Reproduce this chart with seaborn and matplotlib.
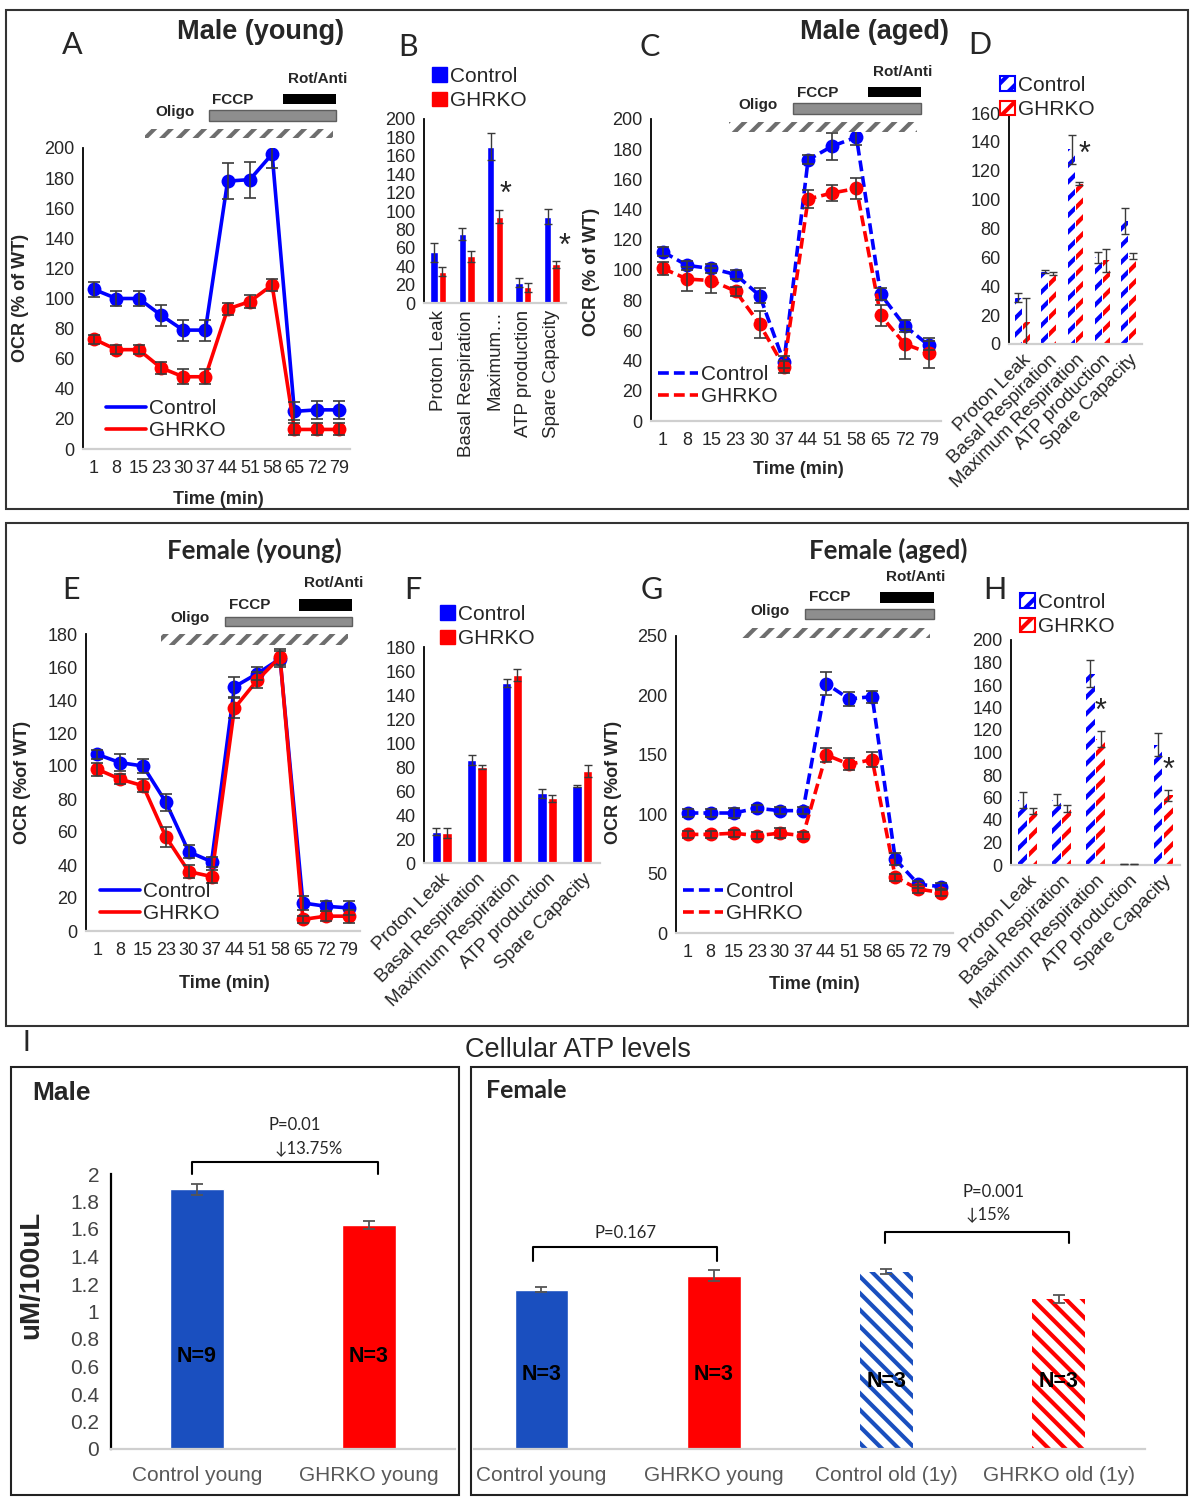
import numpy as np
import pandas as pd
import matplotlib
matplotlib.use("Agg")
import matplotlib.pyplot as plt
import seaborn as sns
from matplotlib import font_manager
from matplotlib.patches import Rectangle, Patch
from matplotlib.lines import Line2D
from matplotlib.ticker import FuncFormatter

# ── data ─────────────────────────────────────────────────────
time_labels = ["1", "8", "15", "23", "30", "37", "44", "51", "58", "65", "72", "79"]
time_pos = list(range(len(time_labels)))
measures = ["Proton Leak", "Basal Respiration", "Maximum Respiration",
            "ATP production", "Spare Capacity"]
measures_b = ["Proton Leak", "Basal Respiration", "Maximum\u2026",
              "ATP production", "Spare Capacity"]

# A  male young, time course
a_ctrl = [106, 100, 100, 89, 79, 79, 178, 179, 196, 25, 26, 26]
a_ctrl_err = [5, 5, 5, 7, 7, 7, 12, 12, 9, 6, 6, 6]
a_ko = [73, 66, 66, 54, 48, 48, 93, 98, 109, 13, 13, 13]
a_ko_err = [3, 3, 3, 4, 5, 5, 4, 4, 4, 4, 4, 4]
# B  male young, parameters
b_ctrl = [55, 75, 170, 22, 94]
b_ctrl_err = [10, 7, 15, 5, 8]
b_ko = [34, 51, 94, 17, 42]
b_ko_err = [5, 6, 7, 5, 4]
# C  male aged, time course
c_ctrl = [112, 103, 101, 97, 83, 39, 173, 182, 188, 84, 63, 50]
c_ctrl_err = [3, 3, 3, 3, 5, 4, 3, 9, 5, 4, 4, 3]
c_ko = [101, 94, 93, 86, 64, 36, 147, 151, 154, 70, 51, 45]
c_ko_err = [4, 8, 8, 3, 9, 4, 6, 5, 7, 7, 10, 10]
# D  male aged, parameters
d_ctrl = [32, 50, 135, 60, 85]
d_ctrl_err = [3, 1, 10, 4, 9]
d_ko = [15, 49, 111, 58, 61]
d_ko_err = [17, 1, 1, 8, 2]
# E  female young, time course
e_ctrl = [107, 102, 100, 78, 48, 42, 148, 156, 165, 17, 15, 14]
e_ctrl_err = [3, 5, 4, 5, 4, 3, 6, 4, 5, 4, 3, 4]
e_ko = [98, 92, 88, 57, 36, 33, 135, 152, 166, 7, 9, 9]
e_ko_err = [4, 3, 4, 6, 4, 4, 6, 5, 5, 2, 3, 4]
# F  female young, parameters
f_ctrl = [26, 86, 150, 58, 64]
f_ctrl_err = [3, 4, 3, 4, 1]
f_ko = [25, 80, 157, 54, 77]
f_ko_err = [4, 2, 5, 3, 5]
# G  female aged, time course
g_ctrl = [101, 101, 101, 105, 103, 103, 210, 197, 199, 62, 41, 39]
g_ctrl_err = [3, 3, 4, 3, 3, 3, 10, 6, 5, 5, 3, 3]
g_ko = [83, 83, 84, 82, 84, 82, 150, 142, 146, 47, 37, 34]
g_ko_err = [3, 3, 3, 3, 4, 3, 6, 5, 6, 3, 3, 3]
# H  female aged, parameters
h_ctrl = [58, 58, 170, 1, 107]
h_ctrl_err = [7, 5, 12, 0, 10]
h_ko = [48, 50, 112, 1, 62]
h_ko_err = [3, 3, 7, 0, 5]
# I  cellular ATP (uM/100uL)
male_groups = ["Control young", "GHRKO young"]
male_atp = [1.89, 1.63]
male_err = [0.04, 0.03]
male_n = ["N=9", "N=3"]
female_groups = ["Control young", "GHRKO young", "Control old (1y)", "GHRKO old (1y)"]
female_atp = [1.16, 1.26, 1.29, 1.09]
female_err = [0.02, 0.04, 0.02, 0.03]
female_n = ["N=3", "N=3", "N=3", "N=3"]

# ── style ────────────────────────────────────────────────────
sns.set_style("white")
names = {f.name for f in font_manager.fontManager.ttflist}
NARROW = "Liberation Sans Narrow" if "Liberation Sans Narrow" in names else "Liberation Sans"
plt.rcParams["font.family"] = [NARROW, "Liberation Sans", "DejaVu Sans"]
plt.rcParams["hatch.linewidth"] = 3.0
ARIAL = ["Liberation Sans", "DejaVu Sans"]
CALIBRI = ["Lato", "DejaVu Sans"]

BLUE, RED = "#0000ff", "#ff0000"
ATP_BLUE = "#1a4fbf"
ERR = "#3a3a3a"
TICK_FS = 13
CAT_FS = 13.5

W, H = 1192, 1500
fig = plt.figure(figsize=(W / 100, H / 100), dpi=100)


def add_axes(x0, y0, x1, y1):
    return fig.add_axes([x0 / W, 1 - y1 / H, (x1 - x0) / W, (y1 - y0) / H])


def ftext(x, y, s, **kw):
    kw.setdefault("ha", "center")
    kw.setdefault("va", "center")
    fig.text(x / W, 1 - y / H, s, **kw)


def frect(x0, y0, x1, y1, **kw):
    fig.add_artist(Rectangle((x0 / W, 1 - y1 / H), (x1 - x0) / W, (y1 - y0) / H,
                             transform=fig.transFigure, **kw))


def style_axes(ax, ymax, step):
    sns.despine(ax=ax)
    ax.spines["left"].set_color("black")
    ax.spines["left"].set_linewidth(1.3)
    ax.spines["bottom"].set_color("#cfcfcf")
    ax.spines["bottom"].set_linewidth(1.6)
    ax.set_ylim(0, ymax)
    ax.set_yticks(np.arange(0, ymax + 1, step))
    ax.tick_params(axis="y", length=4, width=1.2, labelsize=TICK_FS, pad=2)
    ax.tick_params(axis="x", length=0, labelsize=TICK_FS)
    ax.set_xlabel("")
    ax.set_ylabel("")


def line_panel(ax, ctrl, ctrl_err, ko, ko_err, dashed, ymax, step):
    ls = (0, (3, 1.4)) if dashed else "-"
    for vals, errs, col in [(ctrl, ctrl_err, BLUE), (ko, ko_err, RED)]:
        sns.lineplot(x=time_pos, y=vals, color=col, marker="o", markersize=10,
                     markeredgewidth=0, linewidth=2.6, linestyle=ls, ax=ax)
        ax.errorbar(time_pos, vals, yerr=errs, fmt="none", ecolor=ERR,
                    elinewidth=1.2, capsize=4, capthick=1.2, zorder=4)
    style_axes(ax, ymax, step)
    ax.set_xlim(-0.5, 11.5)
    ax.set_xticks(time_pos)
    ax.set_xticklabels(time_labels)
    ax.tick_params(axis="x", pad=8)


def bar_panel(ax, ctrl, ctrl_err, ko, ko_err, hatched, labels, ymax, step, rot):
    df = pd.DataFrame({"measure": measures * 2, "ocr": ctrl + ko,
                       "group": ["Control"] * 5 + ["GHRKO"] * 5})
    sns.barplot(data=df, x="measure", y="ocr", hue="group",
                palette={"Control": BLUE, "GHRKO": RED}, width=0.6, gap=0.12,
                errorbar=None, saturation=1, legend=False, ax=ax)
    for cont, errs, col in zip(ax.containers, [ctrl_err, ko_err], [BLUE, RED]):
        xs = [b.get_x() + b.get_width() / 2 for b in cont]
        ys = [b.get_height() for b in cont]
        if hatched:
            for b in cont:
                b.set_facecolor("white")
                b.set_hatch("//")
                b.set_edgecolor(col)
                b.set_linewidth(0)
        ax.errorbar(xs, ys, yerr=errs, fmt="none", ecolor=ERR, elinewidth=1,
                    capsize=3, capthick=1, zorder=4)
    style_axes(ax, ymax, step)
    ax.set_xlim(-0.5, 4.5)
    ax.set_xticks(range(5))
    if rot == 90:
        ax.set_xticklabels(labels, rotation=90, ha="center", va="top",
                           fontsize=CAT_FS)
    else:
        ax.set_xticklabels(labels, rotation=rot, ha="right", va="top",
                           rotation_mode="anchor", fontsize=CAT_FS)
    ax.tick_params(axis="x", pad=5)


def drugs(rot, black, fccp, gray, oligo, hatch):
    ftext(*rot, "Rot/Anti", fontsize=11, fontweight="bold", family=ARIAL)
    frect(*black, facecolor="black", edgecolor="black", lw=0)
    ftext(*fccp, "FCCP", fontsize=11, fontweight="bold", family=ARIAL)
    frect(*gray, facecolor="#8e8e8e", edgecolor="#5e5e5e", lw=1)
    ftext(*oligo, "Oligo", fontsize=11, fontweight="bold", family=ARIAL)
    frect(*hatch, facecolor="white", edgecolor="#6e6e6e", hatch="//", lw=0)


def line_legend(ax, x, y, dashed):
    ls = (0, (3, 1.4)) if dashed else "-"
    handles = [Line2D([0], [0], color=c, lw=2.6, ls=ls) for c in (BLUE, RED)]
    ax.legend(handles, ["Control", "GHRKO"], loc="upper left",
              bbox_to_anchor=(x / W, 1 - y / H), bbox_transform=fig.transFigure,
              frameon=False, borderpad=0, borderaxespad=0, fontsize=15,
              handlelength=1.9, handletextpad=0.15, labelspacing=0.15)


def bar_legend(ax, x, y, hatched):
    if hatched:
        handles = [Patch(facecolor="white", edgecolor=c, hatch="//", lw=1.5)
                   for c in (BLUE, RED)]
    else:
        handles = [Patch(facecolor=c, edgecolor=c) for c in (BLUE, RED)]
    ax.legend(handles, ["Control", "GHRKO"], loc="upper left",
              bbox_to_anchor=(x / W, 1 - y / H), bbox_transform=fig.transFigure,
              frameon=False, borderpad=0, borderaxespad=0, fontsize=15,
              handlelength=0.7, handleheight=0.7, handletextpad=0.15,
              labelspacing=0.25)


def label_at(axis, s, x, y, size=13):
    axis.set_label_text(s, fontsize=size, fontweight="bold", family=ARIAL,
                        ha="center", va="center")
    axis.set_label_coords(x / W, 1 - y / H, transform=fig.transFigure)


# ── outer boxes ──────────────────────────────────────────────
frect(6, 10, 1188, 509, facecolor="none", edgecolor="#333333", lw=1.5)
frect(6, 523, 1188, 1026, facecolor="none", edgecolor="#333333", lw=1.5)
frect(11, 1067, 459, 1495, facecolor="none", edgecolor="#222222", lw=1.5)
frect(471, 1067, 1187, 1495, facecolor="none", edgecolor="#222222", lw=1.5)

# ── A ────────────────────────────────────────────────────────
ax_a = add_axes(83, 148, 350, 449)
line_panel(ax_a, a_ctrl, a_ctrl_err, a_ko, a_ko_err, False, 200, 20)
line_legend(ax_a, 106, 399, False)
label_at(ax_a.yaxis, "OCR (% of WT)", 21, 298)
label_at(ax_a.xaxis, "Time (min)", 218, 500)
drugs((318, 79), (283, 94, 336, 104), (233, 100), (209, 110, 336, 121),
      (175, 112), (145, 129, 333, 138))
ftext(72, 45, "A", fontsize=22, family=CALIBRI)
ftext(261, 32, "Male (young)", fontsize=19.5, fontweight="bold", family=ARIAL)

# ── B ────────────────────────────────────────────────────────
ax_b = add_axes(424, 119, 566, 303)
bar_panel(ax_b, b_ctrl, b_ctrl_err, b_ko, b_ko_err, False, measures_b, 200, 20, 90)
bar_legend(ax_b, 432, 67, False)
ax_b.text(2.38, 117, "*", fontsize=22, ha="center", va="center")
ax_b.text(4.45, 61, "*", fontsize=22, ha="center", va="center")
ftext(408, 47, "B", fontsize=22, family=CALIBRI)

# ── C ────────────────────────────────────────────────────────
ax_c = add_axes(651, 119, 941, 421)
line_panel(ax_c, c_ctrl, c_ctrl_err, c_ko, c_ko_err, True, 200, 20)
line_legend(ax_c, 658, 365, True)
label_at(ax_c.yaxis, "OCR (% of WT)", 592, 272)
label_at(ax_c.xaxis, "Time (min)", 798, 470)
drugs((903, 72), (868, 87, 921, 97), (818, 93), (793, 103, 921, 114),
      (758, 105), (729, 122, 917, 132))
ftext(650, 47, "C", fontsize=22, family=CALIBRI)
ftext(875, 32, "Male (aged)", fontsize=19.5, fontweight="bold", family=ARIAL)

# ── D ────────────────────────────────────────────────────────
ax_d = add_axes(1009, 113, 1142, 344)
bar_panel(ax_d, d_ctrl, d_ctrl_err, d_ko, d_ko_err, True, measures, 160, 20, 45)
bar_legend(ax_d, 1000, 76, True)
ax_d.text(2.33, 131, "*", fontsize=22, ha="center", va="center")
ftext(980, 45, "D", fontsize=22, family=CALIBRI)

# ── E ────────────────────────────────────────────────────────
ax_e = add_axes(86, 634, 360, 931)
line_panel(ax_e, e_ctrl, e_ctrl_err, e_ko, e_ko_err, False, 180, 20)
line_legend(ax_e, 100, 882, False)
label_at(ax_e.yaxis, "OCR (%of WT)", 23, 782)
label_at(ax_e.xaxis, "Time (min)", 224, 983)
drugs((334, 583), (299, 599, 352, 611), (250, 605), (225, 617, 352, 626),
      (190, 618), (161, 634, 348, 645))
ftext(71, 590, "E", fontsize=22, family=CALIBRI)
ftext(254, 550, "Female (young)", fontsize=18.5, fontweight="bold", family=CALIBRI)

# ── F ────────────────────────────────────────────────────────
ax_f = add_axes(424, 647, 600, 863)
bar_panel(ax_f, f_ctrl, f_ctrl_err, f_ko, f_ko_err, False, measures, 180, 20, 45)
bar_legend(ax_f, 440, 605, False)
ftext(413, 590, "F", fontsize=22, family=CALIBRI)

# ── G ────────────────────────────────────────────────────────
ax_g = add_axes(676, 636, 953, 933)
line_panel(ax_g, g_ctrl, g_ctrl_err, g_ko, g_ko_err, True, 250, 50)
line_legend(ax_g, 683, 882, True)
label_at(ax_g.yaxis, "OCR (%of WT)", 614, 782)
label_at(ax_g.xaxis, "Time (min)", 814, 985)
drugs((916, 577), (880, 592, 934, 603), (830, 597), (805, 609, 934, 619),
      (770, 611), (742, 628, 930, 638))
ftext(652, 590, "G", fontsize=22, family=CALIBRI)
ftext(888, 550, "Female (aged)", fontsize=18.5, fontweight="bold", family=CALIBRI)

# ── H ────────────────────────────────────────────────────────
ax_h = add_axes(1011, 640, 1180, 865)
bar_panel(ax_h, h_ctrl, h_ctrl_err, h_ko, h_ko_err, True, measures, 200, 20, 45)
bar_legend(ax_h, 1020, 593, True)
ax_h.text(2.15, 136, "*", fontsize=22, ha="center", va="center")
ax_h.text(4.15, 84, "*", fontsize=22, ha="center", va="center")
ftext(995, 590, "H", fontsize=22, family=CALIBRI)

# ── I  cellular ATP ──────────────────────────────────────────
ftext(26, 1043, "I", fontsize=20, family=CALIBRI)
ftext(578, 1050, "Cellular ATP levels", fontsize=19.5)
ftext(62, 1093, "Male", fontsize=19, fontweight="bold", family=ARIAL)
ftext(526, 1090, "Female", fontsize=18, fontweight="bold", family=CALIBRI)


def atp_panel(ax, groups, vals, errs, colors, n_labels, n_y):
    sns.barplot(x=groups, y=vals, hue=groups, palette=colors, width=0.31,
                saturation=1, legend=False, ax=ax)
    xs = [p.get_x() + p.get_width() / 2 for p in ax.patches]
    ax.errorbar(xs, vals, yerr=errs, fmt="none", ecolor="#555555", elinewidth=1.3,
                capsize=4, capthick=1.3, zorder=4)
    for x, s, y in zip(xs, n_labels, n_y):
        ax.text(x, y, s, fontsize=15.5, fontweight="bold", ha="center", va="center",
                family=ARIAL, color="black", zorder=5)
    sns.despine(ax=ax)
    ax.spines["bottom"].set_color("#cfcfcf")
    ax.spines["bottom"].set_linewidth(1.6)
    ax.set_ylim(0, 2)
    ax.tick_params(axis="x", length=0, labelsize=15, labelcolor="#595959", pad=12)
    ax.set_xlabel("")
    ax.set_ylabel("")


def bracket(ax, x0, x1, y_top, y_tip):
    ax.plot([x0, x0, x1, x1], [y_tip, y_top, y_top, y_tip], color="black",
            lw=1.5, clip_on=False)


ax_m = add_axes(111, 1174, 455, 1449)
atp_panel(ax_m, male_groups, male_atp, male_err, [ATP_BLUE, RED], male_n, [0.67, 0.67])
ax_m.set_xlim(-0.5, 1.5)
ax_m.spines["left"].set_linewidth(1.6)
ax_m.spines["left"].set_color("black")
ax_m.set_yticks(np.arange(0, 2.01, 0.2))
ax_m.yaxis.set_major_formatter(FuncFormatter(lambda v, _: f"{v:g}"))
ax_m.tick_params(axis="y", length=5, width=1.5, labelsize=15, labelcolor="#444444")
label_at(ax_m.yaxis, "uM/100uL", 31, 1275, size=20)
bracket(ax_m, -0.03, 1.05, 2.09, 2.0)
ax_m.text(0.57, 2.36, "P=0.01", fontsize=12, ha="center", va="center",
          family=CALIBRI, clip_on=False)
ax_m.text(0.65, 2.19, "\u219313.75%", fontsize=12, ha="center", va="center",
          family=CALIBRI, clip_on=False)

ax_f2 = add_axes(474, 1174, 1145, 1449)
atp_panel(ax_f2, female_groups, female_atp, female_err,
          [ATP_BLUE, RED, ATP_BLUE, RED], female_n, [0.54, 0.54, 0.49, 0.49])
for p, col in zip(ax_f2.patches[2:4], [ATP_BLUE, RED]):
    p.set_facecolor("white")
    p.set_hatch("\\\\")
    p.set_edgecolor(col)
    p.set_linewidth(0)
ax_f2.set_xlim(-0.39, 3.5)
ax_f2.spines["left"].set_visible(False)
ax_f2.set_yticks([])
bracket(ax_f2, -0.05, 1.02, 1.47, 1.37)
bracket(ax_f2, 1.99, 3.06, 1.58, 1.50)
ax_f2.text(0.49, 1.57, "P=0.167", fontsize=12, ha="center", va="center",
           family=CALIBRI)
ax_f2.text(2.62, 1.87, "P=0.001", fontsize=12, ha="center", va="center",
           family=CALIBRI)
ax_f2.text(2.59, 1.71, "\u219315%", fontsize=12, ha="center", va="center",
           family=CALIBRI)

fig.savefig("out.png", dpi=100)
